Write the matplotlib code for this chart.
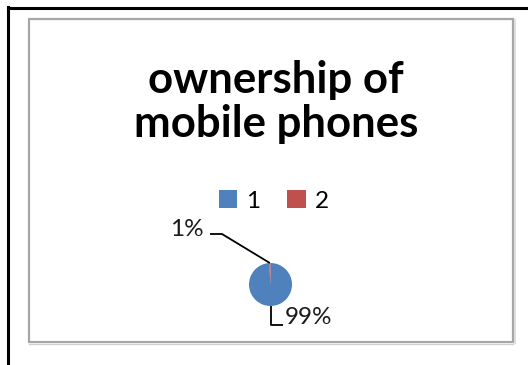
import numpy as np
import matplotlib
matplotlib.use("Agg")
import matplotlib.pyplot as plt
from matplotlib.patches import Rectangle

# chart data
categories = ["1", "2"]
values = [99, 1]
colors = ["#4F81BD", "#C0504D"]
title = "ownership of\nmobile phones"

W, H = 528, 365
fig = plt.figure(figsize=(W / 100, H / 100), dpi=100)
ax = fig.add_axes([0, 0, 1, 1])

def py(y):
    # pixel row (from top) to axes y
    return H - y

# pie, starting at 12 o'clock going clockwise
cx, cy, r = 270.5, 284.5, 21.5
wedges, _ = ax.pie(values, colors=colors, startangle=90, counterclock=False,
                   center=(cx, py(cy)), radius=r,
                   wedgeprops=dict(linewidth=0))
ax.set_xlim(0, W)
ax.set_ylim(0, H)
ax.axis("off")

# percentage labels with leader lines
total = float(sum(values))
pct = ["%d%%" % round(v / total * 100) for v in values]
label_font = dict(family=["Lato", "DejaVu Sans"], fontsize=17.5, color="#1a1a1a")

def edge_point(w):
    mid = np.deg2rad((w.theta1 + w.theta2) / 2)
    return cx + r * np.cos(mid), py(cy) + r * np.sin(mid)

# small slice -> label up left
x0, y0 = edge_point(wedges[1])
ax.plot([x0, 222, 210], [y0, py(234), py(234)], color="black", lw=1.3,
        solid_capstyle="butt")
ax.text(204, py(229), pct[1], ha="right", va="center", **label_font)

# big slice -> label below right
x0, y0 = edge_point(wedges[0])
ax.plot([x0, x0, x0 + 12], [y0, py(325), py(325)], color="black", lw=1.3,
        solid_capstyle="butt")
ax.text(x0 + 14, py(317), pct[0], ha="left", va="center", **label_font)

# legend
leg = ax.legend(wedges, categories, ncol=2, frameon=False,
                loc="center", bbox_to_anchor=(274 / W, py(201) / H),
                prop=dict(family=["Lato", "DejaVu Sans"], size=17.5),
                handlelength=0.75, handleheight=0.7, handletextpad=0.4,
                columnspacing=1.1, borderpad=0)

# title
ax.text(W / 2 + 12, py(102), title, ha="center", va="center",
        family=["Lato", "DejaVu Sans"], fontweight="bold", fontsize=31.5,
        linespacing=1.13, color="black")

# chart area box and outer frame
ax.add_patch(Rectangle((28.5, py(342)), 484, 323, fill=False,
                       edgecolor="#a6a6a6", lw=1.6))
ax.plot([29, 513], [py(343.5), py(343.5)], color="#d0d0d0", lw=1)
ax.plot([514.5, 514.5], [py(20), py(343)], color="#dedede", lw=1.5)
ax.plot([8, W], [py(7.5), py(7.5)], color="black", lw=2.2)
ax.plot([8, 8], [py(6.5), 0], color="black", lw=2.2)

fig.savefig("out.png", dpi=100)
